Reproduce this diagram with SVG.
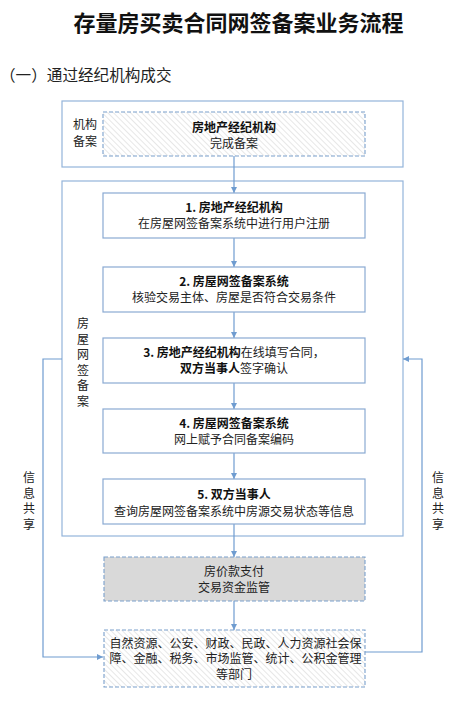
<svg xmlns="http://www.w3.org/2000/svg" width="464" height="704" viewBox="0 0 464 704">
<style>
text{font-family:"Noto Sans CJK SC","Noto Sans",sans-serif;fill:#222;font-size:12px}
.c{text-anchor:middle}
.b{font-weight:bold;fill:#111}
.outer{fill:none;stroke:#93b4da;stroke-width:1.2}
.box{fill:#fff;stroke:#8aaad2;stroke-width:1.2}
.dash{stroke:#7aa0cc;stroke-width:1.1;stroke-dasharray:4 2}
.conn{fill:none;stroke:#6f9cd0;stroke-width:1.2}
</style>
<defs>
<pattern id="hatch" width="4" height="4" patternUnits="userSpaceOnUse" patternTransform="rotate(-45)">
<rect width="4" height="4" fill="#fff"/>
<line x1="0" y1="0" x2="0" y2="4" stroke="#cfcfcf" stroke-width="1"/>
</pattern>
<marker id="arr" viewBox="0 0 10 10" refX="10" refY="5" markerWidth="6" markerHeight="6" markerUnits="userSpaceOnUse" orient="auto">
<path d="M0,0 L10,5 L0,10 z" fill="#6f9cd0"/>
</marker>
</defs>
<rect width="464" height="704" fill="#fff"/>
<text x="238.5" y="31" class="c" style="font-size:22px;font-weight:bold;fill:#111">存量房买卖合同网签备案业务流程</text>
<text x="0" y="81" style="font-size:15.6px">（一）通过经纪机构成交</text>

<g id="frame-agency">
<rect class="outer" x="62" y="101" width="341" height="66"/>
<text x="85" y="129" class="c">机构</text>
<text x="85" y="146" class="c">备案</text>
</g>
<g id="frame-online">
<rect class="outer" x="62" y="181" width="341" height="355"/>
<text x="83" y="328" class="c">房</text>
<text x="83" y="343.5" class="c">屋</text>
<text x="83" y="359" class="c">网</text>
<text x="83" y="374.5" class="c">签</text>
<text x="83" y="390" class="c">备</text>
<text x="83" y="405.5" class="c">案</text>
</g>

<g id="connectors">
<line class="conn" x1="234" y1="156" x2="234" y2="193" marker-end="url(#arr)"/>
<line class="conn" x1="234" y1="238" x2="234" y2="267" marker-end="url(#arr)"/>
<line class="conn" x1="234" y1="312" x2="234" y2="338" marker-end="url(#arr)"/>
<line class="conn" x1="234" y1="383" x2="234" y2="409" marker-end="url(#arr)"/>
<line class="conn" x1="234" y1="453" x2="234" y2="479" marker-end="url(#arr)"/>
<line class="conn" x1="234" y1="524" x2="234" y2="557" marker-end="url(#arr)"/>
<line class="conn" x1="234" y1="601" x2="234" y2="630" marker-end="url(#arr)"/>
<polyline class="conn" points="62,359 43,359 43,657 103,657" marker-end="url(#arr)"/>
<polyline class="conn" points="365,652 422,652 422,359 403,359" marker-end="url(#arr)"/>
</g>

<g id="node-agency">
<rect x="103" y="112" width="262" height="44" fill="url(#hatch)" class="dash"/>
<text x="234" y="132" class="c b">房地产经纪机构</text>
<text x="234" y="148" class="c">完成备案</text>
</g>
<g id="node-1">
<rect class="box" x="103" y="193" width="262" height="45"/>
<text x="234" y="212" class="c b">1. 房地产经纪机构</text>
<text x="234" y="228" class="c">在房屋网签备案系统中进行用户注册</text>
</g>
<g id="node-2">
<rect class="box" x="103" y="267" width="262" height="45"/>
<text x="234" y="286" class="c b">2. 房屋网签备案系统</text>
<text x="234" y="302" class="c">核验交易主体、房屋是否符合交易条件</text>
</g>
<g id="node-3">
<rect class="box" x="103" y="338" width="262" height="45"/>
<text x="234" y="356.5" class="c"><tspan class="b">3. 房地产经纪机构</tspan>在线填写合同，</text>
<text x="234" y="372.5" class="c"><tspan class="b">双方当事人</tspan>签字确认</text>
</g>
<g id="node-4">
<rect class="box" x="103" y="409" width="262" height="44"/>
<text x="234" y="427.5" class="c b">4. 房屋网签备案系统</text>
<text x="234" y="444" class="c">网上赋予合同备案编码</text>
</g>
<g id="node-5">
<rect class="box" x="103" y="479" width="262" height="45"/>
<text x="234" y="499" class="c b">5. 双方当事人</text>
<text x="234" y="516" class="c">查询房屋网签备案系统中房源交易状态等信息</text>
</g>
<g id="node-payment">
<rect x="104" y="557" width="261" height="44" fill="#d9d9d9" class="dash"/>
<text x="234" y="576" class="c">房价款支付</text>
<text x="234" y="591.5" class="c">交易资金监管</text>
</g>
<g id="node-departments">
<rect x="104" y="630" width="261" height="57" fill="url(#hatch)" class="dash"/>
<text x="235.5" y="647.5" class="c">自然资源、公安、财政、民政、人力资源社会保</text>
<text x="235.5" y="663" class="c">障、金融、税务、市场监管、统计、公积金管理</text>
<text x="234" y="678.5" class="c">等部门</text>
</g>
<g id="label-left">
<text x="29" y="482" class="c">信</text>
<text x="29" y="497.5" class="c">息</text>
<text x="29" y="513" class="c">共</text>
<text x="29" y="528.5" class="c">享</text>
</g>
<g id="label-right">
<text x="438" y="482" class="c">信</text>
<text x="438" y="497.5" class="c">息</text>
<text x="438" y="513" class="c">共</text>
<text x="438" y="528.5" class="c">享</text>
</g>
</svg>
